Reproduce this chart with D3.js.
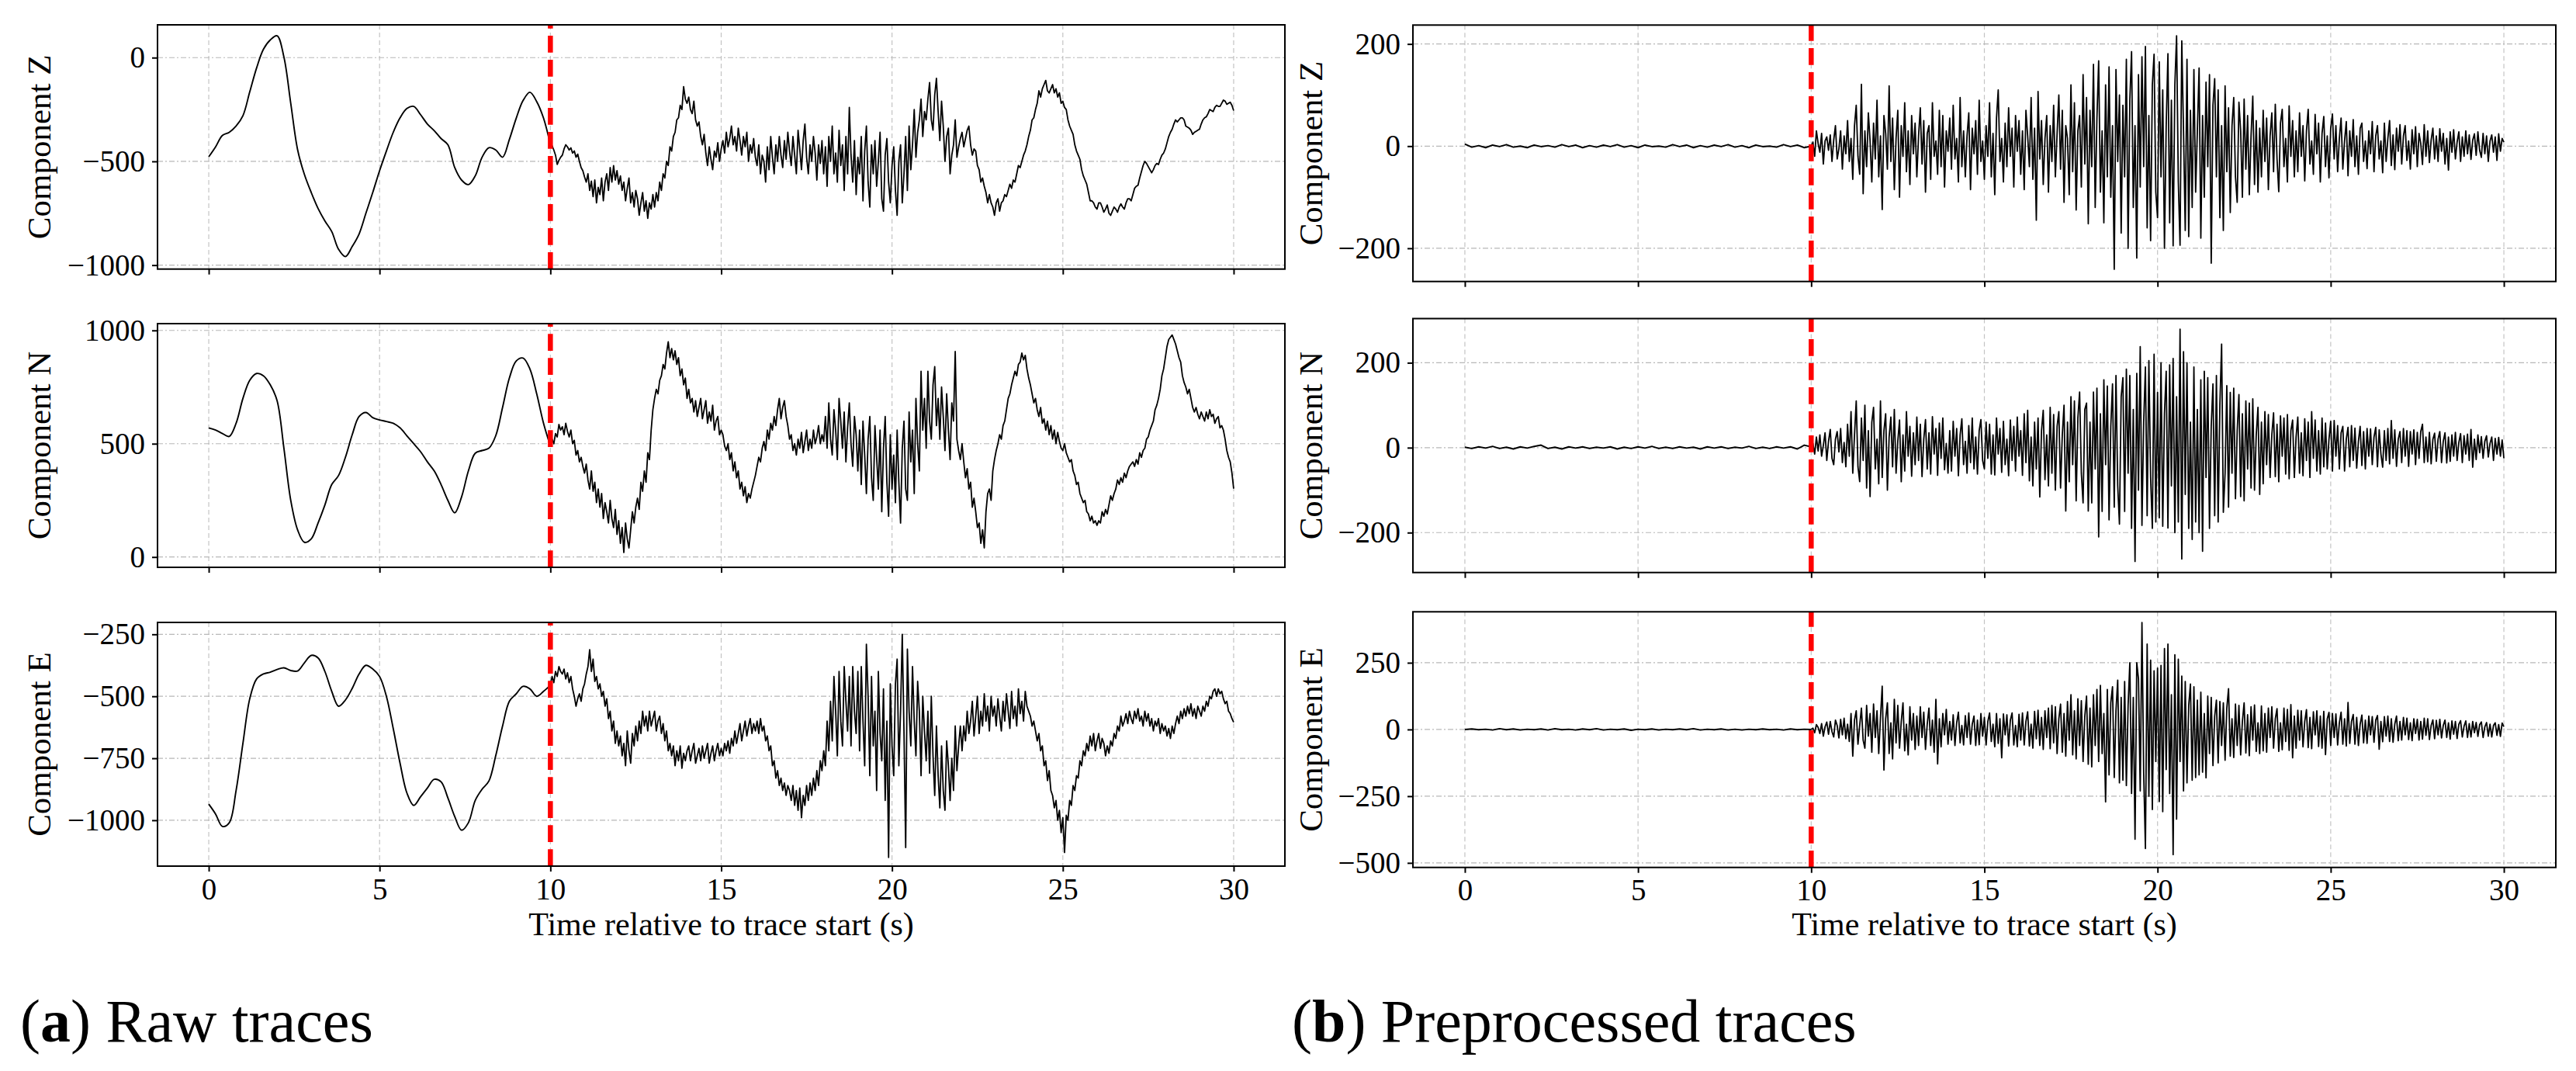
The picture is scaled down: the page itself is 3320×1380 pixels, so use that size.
<!DOCTYPE html>
<html>
<head>
<meta charset="utf-8">
<script src="https://cdn.jsdelivr.net/npm/d3@7"></script>
<style>
  body { margin: 0; background: #ffffff; }
  svg { display: block; }
</style>
</head>
<body>
<svg id="chart" width="3320" height="1380"></svg>
<script>
// ---------------- DATA ----------------
const componentNames = ["Component Z", "Component N", "Component E"];
const timeTicks = [0, 5, 10, 15, 20, 25, 30];
const timeRange = [-1.5, 31.5];
const arrivalTime = 10;
const xAxisTitle = "Time relative to trace start (s)";
const captionRaw = ["a", " Raw traces"];
const captionPre = ["b", " Preprocessed traces"];

// Raw traces: 0..10 s every 0.2 s, then 10.05..30 s every 0.05 s
const rawZEarly = [-478,-430,-375,-360,-330,-280,-165,-50,40,85,
  105,3,-220,-443,-563,-650,-727,-787,-838,-924,
  -959,-910,-850,-750,-650,-545,-450,-360,-290,-245,
  -235,-275,-320,-352,-390,-420,-530,-590,-612,-570,
  -480,-434,-445,-480,-394,-292,-207,-167,-212,-292,
  -420];
const rawZLate = [
  -425,-445,-470,-515,-495,-480,-470,-440,-420,-430,-445,-435,-460,-450,-480,-465,-500,-530,-545,-575,
  -600,-560,-640,-595,-670,-590,-700,-625,-660,-580,-690,-600,-560,-640,-530,-600,-520,-590,-545,-610,
  -570,-640,-600,-690,-630,-580,-700,-650,-720,-640,-680,-760,-700,-650,-740,-690,-775,-700,-730,-660,
  -720,-650,-690,-600,-640,-560,-580,-500,-520,-430,-450,-380,-360,-300,-290,-230,-250,-140,-200,-220,
  -190,-250,-270,-210,-300,-330,-310,-380,-420,-370,-460,-520,-430,-490,-540,-450,-480,-410,-500,-440,
  -400,-460,-360,-430,-390,-330,-420,-380,-450,-340,-400,-470,-380,-430,-360,-500,-420,-460,-390,-480,
  -520,-420,-560,-470,-500,-600,-430,-540,-380,-480,-560,-420,-500,-380,-470,-530,-400,-490,-360,-450,
  -520,-380,-470,-560,-350,-440,-540,-400,-320,-480,-560,-420,-500,-380,-460,-590,-420,-510,-400,-560,
  -430,-620,-380,-500,-330,-560,-460,-600,-350,-520,-420,-640,-380,-560,-240,-470,-600,-400,-660,-480,
  -560,-380,-690,-450,-330,-600,-720,-420,-560,-400,-620,-500,-360,-680,-740,-470,-390,-600,-700,-520,
  -430,-640,-760,-500,-420,-700,-560,-380,-640,-330,-540,-420,-250,-480,-360,-300,-200,-380,-260,-300,
  -200,-120,-300,-350,-180,-100,-260,-400,-210,-330,-500,-380,-340,-560,-470,-420,-300,-480,-430,-390,
  -360,-430,-390,-350,-330,-420,-470,-440,-450,-520,-540,-600,-580,-620,-650,-700,-660,-700,-720,-760,
  -700,-680,-740,-700,-690,-660,-670,-640,-610,-630,-590,-600,-560,-520,-530,-500,-470,-450,-420,-380,
  -350,-300,-290,-250,-220,-160,-190,-150,-130,-110,-160,-170,-150,-130,-170,-150,-190,-170,-220,-210,
  -240,-250,-300,-330,-350,-370,-420,-450,-470,-490,-540,-570,-590,-610,-650,-690,-690,-700,-720,-730,
  -700,-700,-720,-745,-730,-710,-750,-760,-740,-720,-730,-745,-720,-705,-720,-730,-700,-680,-680,-690,
  -660,-630,-620,-615,-580,-550,-520,-500,-510,-525,-540,-555,-540,-520,-510,-515,-490,-470,-460,-440,
  -410,-380,-360,-345,-320,-300,-310,-300,-290,-290,-300,-330,-335,-340,-350,-370,-360,-355,-350,-345,
  -320,-300,-290,-285,-270,-250,-255,-260,-240,-230,-235,-235,-220,-205,-210,-225,-220,-215,-230,-255];

const rawNEarly = [570,560,545,532,590,700,780,810,800,760,
  690,480,250,120,65,80,150,230,320,360,
  440,540,620,638,615,605,598,590,570,535,
  500,465,420,380,320,250,195,265,380,458,
  470,480,535,660,790,865,878,830,720,590,
  490];
const rawNLate = [
  520,500,545,530,585,560,575,540,590,555,530,560,500,515,450,470,420,440,400,370,
  410,340,300,380,290,330,240,300,220,280,170,240,200,150,250,170,130,210,100,160,
  60,130,20,150,80,40,120,200,150,220,260,210,330,290,380,330,460,430,560,650,
  700,740,720,780,800,850,830,900,950,880,920,870,910,850,880,800,830,760,790,700,
  740,680,700,640,690,620,660,700,610,650,690,590,640,600,670,560,600,620,540,560,
  540,490,470,500,430,460,380,420,350,380,300,330,270,310,240,280,260,300,330,360,
  400,440,420,480,510,470,560,520,590,560,620,580,650,700,610,660,690,620,580,520,
  540,470,500,450,520,480,550,460,510,560,470,520,480,560,500,530,580,500,540,510,
  620,480,680,520,450,650,560,430,700,600,480,640,420,570,680,500,400,620,540,380,
  560,320,600,450,280,520,620,350,250,580,440,300,560,200,480,620,330,180,540,300,
  450,240,560,330,150,480,600,300,250,640,420,560,280,700,500,380,820,560,700,480,
  820,600,520,760,840,580,700,520,750,620,470,720,560,430,680,600,907,520,470,430,
  500,420,350,390,300,330,220,260,200,130,150,60,120,40,200,280,300,250,380,430,
  470,500,540,520,580,600,650,700,720,760,790,820,800,850,860,900,870,890,830,790,
  760,720,680,700,650,620,660,590,610,560,600,540,580,520,560,500,550,510,480,470,
  500,460,440,420,430,380,360,320,330,280,260,240,250,200,190,160,180,150,160,140,
  160,150,200,180,210,190,230,270,250,280,300,340,320,350,330,370,350,380,400,410,
  420,400,430,410,460,440,470,480,520,530,560,580,600,650,670,700,740,800,830,880,
  930,960,970,980,960,940,910,880,860,800,770,750,720,740,700,660,640,660,630,610,
  640,620,600,640,610,650,620,630,590,610,620,570,580,560,520,470,440,420,370,302];

const rawEEarly = [-935,-975,-1025,-1010,-880,-690,-510,-430,-410,-403,
  -392,-385,-396,-398,-365,-335,-345,-400,-480,-540,
  -515,-468,-410,-375,-390,-420,-500,-630,-770,-890,
  -940,-905,-870,-835,-845,-910,-985,-1040,-1010,-920,
  -875,-842,-740,-620,-520,-490,-460,-470,-500,-480,
  -455];
const rawELate = [
  -420,-445,-400,-420,-380,-400,-410,-390,-430,-405,-445,-420,-470,-500,-540,-510,-490,-520,-470,-450,
  -410,-380,-312,-400,-350,-440,-420,-470,-450,-500,-480,-540,-510,-590,-560,-640,-600,-690,-640,-700,
  -660,-740,-690,-780,-640,-720,-770,-650,-700,-620,-680,-600,-650,-560,-620,-580,-640,-560,-620,-590,
  -560,-640,-600,-580,-650,-610,-680,-640,-720,-690,-740,-700,-780,-720,-760,-700,-790,-730,-760,-720,
  -700,-760,-720,-690,-770,-740,-710,-760,-700,-750,-720,-690,-770,-730,-700,-760,-720,-690,-740,-710,
  -740,-690,-720,-680,-730,-670,-700,-640,-690,-650,-610,-680,-640,-600,-660,-620,-590,-650,-610,-640,
  -600,-650,-590,-640,-620,-680,-660,-720,-700,-780,-760,-830,-800,-860,-830,-880,-850,-900,-860,-880,
  -920,-860,-940,-880,-960,-870,-990,-900,-940,-860,-920,-850,-900,-830,-880,-800,-860,-760,-800,-720,
  -780,-600,-720,-520,-680,-420,-560,-740,-400,-600,-700,-380,-520,-640,-420,-700,-380,-560,-650,-400,
  -720,-380,-600,-780,-290,-500,-820,-420,-700,-560,-880,-400,-650,-760,-470,-920,-600,-1150,-450,-700,
  -820,-450,-350,-780,-560,-250,-640,-1110,-310,-560,-700,-380,-600,-740,-440,-560,-820,-500,-640,-760,
  -560,-810,-500,-740,-900,-620,-820,-950,-700,-880,-960,-680,-780,-920,-750,-880,-620,-800,-700,-620,
  -720,-620,-680,-560,-650,-600,-520,-660,-580,-500,-650,-560,-620,-490,-600,-540,-640,-500,-580,-540,
  -620,-510,-580,-640,-520,-600,-490,-560,-630,-480,-590,-540,-620,-470,-570,-520,-600,-480,-540,-560,
  -580,-620,-600,-640,-680,-650,-720,-700,-780,-760,-840,-800,-880,-900,-950,-920,-1000,-960,-1050,-990,
  -1130,-980,-1000,-920,-940,-860,-880,-820,-830,-760,-780,-720,-740,-690,-720,-660,-700,-650,-720,-680,
  -650,-710,-670,-690,-740,-700,-730,-680,-700,-650,-670,-620,-640,-580,-620,-600,-570,-610,-560,-590,
  -610,-560,-590,-550,-600,-580,-620,-560,-600,-570,-620,-590,-640,-600,-620,-590,-650,-610,-640,-620,
  -660,-630,-670,-620,-650,-610,-580,-610,-560,-590,-550,-580,-540,-570,-530,-580,-550,-590,-540,-560,
  -580,-540,-560,-520,-540,-500,-510,-480,-470,-500,-470,-490,-480,-510,-530,-520,-560,-570,-590,-605];

// Preprocessed traces: 0..10 s every 0.2 s, then 10.05..30 s every 0.05 s
const preZQuiet = [4,-2,1,-3,2,-1,3,-2,0,-3, 2,-1,1,-2,3,-1,2,-3,1,-2,
  2,-1,3,-2,1,-3,2,-1,0,-2, 3,-1,2,-3,1,-2,2,-1,3,-2, 1,-3,2,-1,0,-2,3,-1,2,-3, 0];
const preZActive = [
  8,-20,30,5,-12,25,-35,10,18,-8,22,-30,12,40,-25,-5,30,-45,20,-15,
  50,-30,15,-65,40,80,-20,-55,121,-93,30,-40,65,10,-70,45,-25,90,-60,20,
  -124,60,25,-45,118,-30,55,-85,15,70,-100,40,-20,85,-50,30,-75,60,-15,45,
  -60,20,75,-35,50,-90,25,40,-65,85,-20,10,-55,70,-40,60,-80,30,-10,55,
  -45,80,-25,15,-70,95,-40,30,-60,20,65,-85,35,-15,50,-55,90,-30,10,-65,
  40,-20,85,-60,25,-95,55,110,-30,15,-70,45,-40,75,-20,35,-80,60,-10,50,
  -55,30,-85,70,20,-40,95,-65,35,-145,107,-25,50,-75,15,60,-90,40,-30,80,
  -60,25,100,-45,70,-110,40,15,-95,120,-50,85,-125,30,60,-80,140,-35,95,-152,
  70,-40,160,-120,55,167,-90,30,-150,120,-60,155,-100,40,-241,150,-30,100,-170,80,
  -60,170,-200,90,185,-120,40,-219,140,-80,175,-40,195,-160,60,-185,120,180,-90,-140,
  165,-60,110,-200,40,181,-150,90,-195,120,216,-70,-194,206,30,-165,170,-177,70,-120,
  150,-90,30,153,-180,60,-100,125,-40,140,-229,80,132,-60,110,-140,40,-165,118,-50,
  75,-130,40,95,-60,-110,86,30,-100,92,-45,60,-95,20,98,-75,50,-90,35,-60,
  70,-30,55,-85,20,65,-50,82,-25,-89,45,72,-40,15,-70,79,-20,50,-60,30,
  -50,65,-20,40,-68,30,72,-35,10,-55,62,-15,45,-70,25,58,-40,20,-62,35,
  63,-25,40,-50,15,55,-45,10,48,-58,30,-20,52,-40,20,-55,35,45,-30,10,
  -44,30,-15,48,-50,20,40,-25,10,-52,45,-30,15,50,-38,22,-46,35,-10,42,
  -35,20,40,-28,10,-45,32,-15,38,-40,25,5,-36,42,-20,30,-32,12,35,-25,
  20,-30,34,-10,25,-35,15,-47,28,-12,32,-25,8,28,-30,18,-20,30,-15,22,
  -26,12,24,-18,28,-8,-22,25,-15,20,-30,10,22,-12,18,-28,24,-10,15,8];

const preNQuiet = [1,-2,2,-1,3,-2,1,-3,2,-1, 3,6,-2,1,-3,2,-1,2,-2,1,
  -1,2,-3,1,-2,2,-1,3,-2,1, -2,2,-1,1,-3,2,-1,2,-2,1, -1,3,-2,1,-2,2,-1,2,-3,6, 2];
const preNActive = [
  10,-15,25,-8,30,-20,5,35,-30,15,43,-25,-40,20,38,-10,45,-35,12,-45,
  55,-20,85,-60,30,110,-45,-80,70,-30,100,-95,40,-115,60,95,-50,20,-85,110,
  -70,40,80,-100,25,72,-45,90,-60,15,65,-80,30,-55,85,-20,50,-67,35,-40,
  72,-30,55,-68,20,66,-50,35,-62,73,-15,45,-65,58,-25,70,-52,10,-60,40,
  -55,62,-20,45,-66,30,68,-40,15,-60,52,-35,70,-50,25,-62,40,66,-30,-50,
  60,-25,55,-62,30,-64,70,-15,45,-58,62,-40,20,-66,65,-30,50,-55,72,-20,
  40,-65,80,-35,88,-78,25,-90,60,-50,70,-116,40,88,-75,30,-90,95,-60,78,
  -100,50,85,-95,30,100,-149,60,-80,120,-40,110,-125,70,131,-60,-130,90,105,-149,
  60,-130,131,-50,140,-210,80,-150,160,-40,145,-170,50,150,-140,170,-90,-180,120,165,
  -150,185,-60,170,-190,90,-268,175,-100,238,-183,60,190,-160,205,-70,-190,220,-175,130,
  -165,200,-185,80,180,-189,195,-90,210,-200,120,-175,279,-262,226,-110,200,-190,60,-216,
  190,-175,90,-200,160,-244,180,-70,165,-190,50,150,-160,170,-175,100,244,-152,-60,146,
  -140,130,-60,140,-120,40,125,-115,80,-125,110,-50,105,-95,115,-100,30,95,-110,60,
  -85,85,-40,78,-70,30,82,-68,55,-80,75,-20,70,-62,78,-73,40,65,-70,25,
  72,-60,35,-66,68,-30,60,-70,85,-25,65,-55,40,-62,70,-45,58,-50,20,62,
  -55,64,-20,52,-50,35,50,-55,20,48,-45,52,-30,46,-48,15,50,-42,38,-50,
  45,-20,44,-40,25,48,-45,42,-15,-46,40,-30,45,-38,64,-25,42,-44,20,38,
  -35,45,-20,40,-44,38,-15,42,-40,36,-25,38,55,-35,25,-33,36,-38,20,34,
  -32,20,38,-35,15,35,-36,25,-32,30,-20,36,-30,12,33,-35,28,-15,32,-30,
  43,-46,20,-28,30,-12,26,-25,15,28,-22,10,25,-30,22,-15,24,-20,18,-25];

const preEQuiet = [0,2,-1,1,-2,3,-1,2,-2,1, -1,2,-2,3,-1,1,-2,2,-1,3,
  -2,1,-1,2,-3,1,-1,2,-2,1, -1,2,-1,3,-2,1,-1,2,-2,1, -2,1,-1,2,-1,1,-2,2,-1,1, 0];
const preEActive = [
  5,-12,18,8,-15,22,-25,10,28,-18,30,-8,-28,35,15,-32,38,-20,42,-35,
  20,-45,60,-100,35,70,-55,15,80,-40,-70,90,-25,60,-85,95,-30,70,-90,45,
  162,-152,40,100,-90,25,-110,113,-50,90,-70,30,100,-80,20,-95,85,-40,60,-75,
  50,-60,85,-30,65,-75,20,80,-60,35,-85,113,-129,40,-65,60,-20,75,-55,30,
  -40,55,-60,25,65,-50,15,-58,52,-30,62,-55,20,50,-60,35,-57,60,-25,45,
  -58,30,62,-45,20,-65,60,-52,40,-106,58,-20,55,-62,35,62,-58,15,-65,57,
  -40,62,-58,30,66,-62,20,-70,68,-35,72,-60,45,-75,70,-30,80,-72,90,-50,
  85,-90,40,95,-85,60,-100,105,-40,130,-95,70,-110,115,-60,108,-120,50,125,-130,
  80,-140,130,-60,150,-120,165,-90,60,-271,150,-170,100,160,-180,70,185,-200,120,-190,
  180,-210,90,250,-240,120,-411,250,190,-230,401,-160,-446,320,-250,260,-300,220,-120,230,
  -270,240,-308,303,-150,320,-240,130,-469,280,-336,263,-120,200,-230,180,-200,90,170,-190,
  160,-180,110,-170,140,-160,60,-181,125,-90,120,-135,50,110,-125,105,-60,100,-115,80,
  153,-100,40,-105,95,-60,90,-95,30,100,-88,55,-98,85,-40,92,-82,25,-90,88,
  -80,60,-85,80,-30,85,-70,40,78,-82,25,-76,80,-45,75,-78,93,-106,50,-70,
  72,-40,70,-65,30,74,-68,45,-72,66,-20,70,-64,50,-70,68,-94,40,64,-60,
  60,-30,58,-58,25,65,-55,40,-62,101,-52,30,56,-55,45,-60,20,54,-50,35,
  -52,50,-20,48,-48,35,52,-74,30,-46,48,-25,50,-45,40,-48,20,50,-42,30,
  -40,45,-20,42,-38,25,-42,40,-15,38,-40,30,-36,42,-22,40,-38,15,36,-35,
  34,-20,38,-32,15,35,-30,25,-36,32,-18,30,-34,20,33,-28,12,32,-30,22,
  -28,30,-12,26,-26,18,28,-30,10,26,-25,20,-28,15,25,-22,18,-26,24,10];

// axis limits and tick labels per panel
const rawZRange = [-1019, 158], rawZTicks = [-1000, -500, 0];
const rawNRange = [-45.5, 1030], rawNTicks = [0, 500, 1000];
const rawERange = [-1185, -202], rawETicks = [-1000, -750, -500, -250];
const preZRange = [-265, 237], preZTicks = [-200, 0, 200];
const preNRange = [-294, 304], preNTicks = [-200, 0, 200];
const preERange = [-517, 441], preETicks = [-500, -250, 0, 250];

// ---------------- DRAWING ----------------
const FONT = "'Liberation Serif', 'Times New Roman', serif";
const svg = d3.select("#chart");

function buildSeries(early, earlyStep, late, lateStart, lateStep) {
  const e = early.map((v, i) => ({ t: +(i * earlyStep).toFixed(3), v }));
  const l = late.map((v, i) => ({ t: +(lateStart + i * lateStep).toFixed(3), v }));
  return { early: e, late: [e[e.length - 1]].concat(l) };
}

const leftCol = { x0: 203, x1: 1656, labelX: 65, capX: 26, titleX: (203 + 1656) / 2 };
const rightCol = { x0: 1821, x1: 3294, labelX: 1704, capX: 1665, titleX: (1821 + 3294) / 2 };
const leftRows = [{ y0: 32, y1: 346.7 }, { y0: 417, y1: 731 }, { y0: 802, y1: 1116 }];
const rightRows = [{ y0: 32.3, y1: 362.7 }, { y0: 410.5, y1: 737.7 }, { y0: 788.3, y1: 1117.7 }];

const panels = [
  { col: leftCol, row: leftRows[0], name: componentNames[0], range: rawZRange, ticks: rawZTicks, s: buildSeries(rawZEarly, 0.2, rawZLate, 10.05, 0.05), smooth: true },
  { col: leftCol, row: leftRows[1], name: componentNames[1], range: rawNRange, ticks: rawNTicks, s: buildSeries(rawNEarly, 0.2, rawNLate, 10.05, 0.05), smooth: true },
  { col: leftCol, row: leftRows[2], name: componentNames[2], range: rawERange, ticks: rawETicks, s: buildSeries(rawEEarly, 0.2, rawELate, 10.05, 0.05), smooth: true, bottom: true },
  { col: rightCol, row: rightRows[0], name: componentNames[0], range: preZRange, ticks: preZTicks, s: buildSeries(preZQuiet, 0.2, preZActive, 10.05, 0.05), smooth: false },
  { col: rightCol, row: rightRows[1], name: componentNames[1], range: preNRange, ticks: preNTicks, s: buildSeries(preNQuiet, 0.2, preNActive, 10.05, 0.05), smooth: false },
  { col: rightCol, row: rightRows[2], name: componentNames[2], range: preERange, ticks: preETicks, s: buildSeries(preEQuiet, 0.2, preEActive, 10.05, 0.05), smooth: false, bottom: true }
];

const fmt = d => (d < 0 ? "\u2212" + Math.abs(d) : String(d));

panels.forEach((p, idx) => {
  const { x0, x1 } = p.col;
  const { y0, y1 } = p.row;
  const x = d3.scaleLinear().domain(timeRange).range([x0, x1]);
  const y = d3.scaleLinear().domain(p.range).range([y1, y0]);
  const g = svg.append("g");

  const clipId = "clip" + idx;
  svg.append("clipPath").attr("id", clipId).append("rect")
    .attr("x", x0).attr("y", y0).attr("width", x1 - x0).attr("height", y1 - y0);

  // grid
  g.append("g").selectAll("line").data(timeTicks).join("line")
    .attr("x1", d => x(d)).attr("x2", d => x(d)).attr("y1", y0).attr("y2", y1)
    .attr("stroke", "#c4c4c4").attr("stroke-width", 1.2).attr("stroke-dasharray", "6,4");
  g.append("g").selectAll("line").data(p.ticks).join("line")
    .attr("x1", x0).attr("x2", x1).attr("y1", d => y(d)).attr("y2", d => y(d))
    .attr("stroke", "#b8b8b8").attr("stroke-width", 1.2).attr("stroke-dasharray", "7,3,2,3");

  // trace
  const tg = g.append("g").attr("clip-path", `url(#${clipId})`);
  const lineEarly = d3.line().x(d => x(d.t)).y(d => y(d.v))
    .curve(p.smooth ? d3.curveCatmullRom.alpha(0.5) : d3.curveLinear);
  const lineLate = d3.line().x(d => x(d.t)).y(d => y(d.v)).curve(d3.curveLinear);
  tg.append("path").attr("d", lineEarly(p.s.early))
    .attr("fill", "none").attr("stroke", "#000").attr("stroke-width", 1.9).attr("stroke-linejoin", "round");
  tg.append("path").attr("d", lineLate(p.s.late))
    .attr("fill", "none").attr("stroke", "#000").attr("stroke-width", 1.8).attr("stroke-linejoin", "round");

  // arrival marker
  g.append("line")
    .attr("x1", x(arrivalTime)).attr("x2", x(arrivalTime)).attr("y1", y1).attr("y2", y0)
    .attr("stroke", "#ff0000").attr("stroke-width", 6.5).attr("stroke-dasharray", "21.7,9.3");

  // frame
  g.append("rect").attr("x", x0).attr("y", y0).attr("width", x1 - x0).attr("height", y1 - y0)
    .attr("fill", "none").attr("stroke", "#000").attr("stroke-width", 2);

  // axes
  const ya = g.append("g").attr("transform", `translate(${x0},0)`)
    .call(d3.axisLeft(y).tickValues(p.ticks).tickSize(7).tickPadding(9).tickFormat(fmt));
  ya.select(".domain").remove();
  ya.attr("font-family", FONT).attr("font-size", 39);
  ya.selectAll(".tick line").attr("stroke-width", 2);
  ya.selectAll(".tick text").attr("fill", "#000");

  const xa = g.append("g").attr("transform", `translate(0,${y1})`)
    .call(d3.axisBottom(x).tickValues(timeTicks).tickSize(7).tickPadding(8)
      .tickFormat(p.bottom ? (d => String(d)) : (() => "")));
  xa.select(".domain").remove();
  xa.attr("font-family", FONT).attr("font-size", 39);
  xa.selectAll(".tick line").attr("stroke-width", 2);
  xa.selectAll(".tick text").attr("fill", "#000");

  // y label
  g.append("text")
    .attr("transform", `translate(${p.col.labelX},${(y0 + y1) / 2}) rotate(-90)`)
    .attr("text-anchor", "middle").attr("font-family", FONT).attr("font-size", 43)
    .attr("fill", "#000").text(p.name);

  if (p.bottom) {
    g.append("text").attr("x", p.col.titleX).attr("y", 1205)
      .attr("text-anchor", "middle").attr("font-family", FONT).attr("font-size", 42)
      .attr("fill", "#000").text(xAxisTitle);
  }
});

// captions
[[leftCol, captionRaw], [rightCol, captionPre]].forEach(([col, cap]) => {
  const t = svg.append("text").attr("x", col.capX).attr("y", 1342)
    .attr("font-family", FONT).attr("font-size", 78).attr("fill", "#000");
  t.append("tspan").text("(");
  t.append("tspan").attr("font-weight", "bold").text(cap[0]);
  t.append("tspan").text(")" + cap[1]);
});
</script>
</body>
</html>
